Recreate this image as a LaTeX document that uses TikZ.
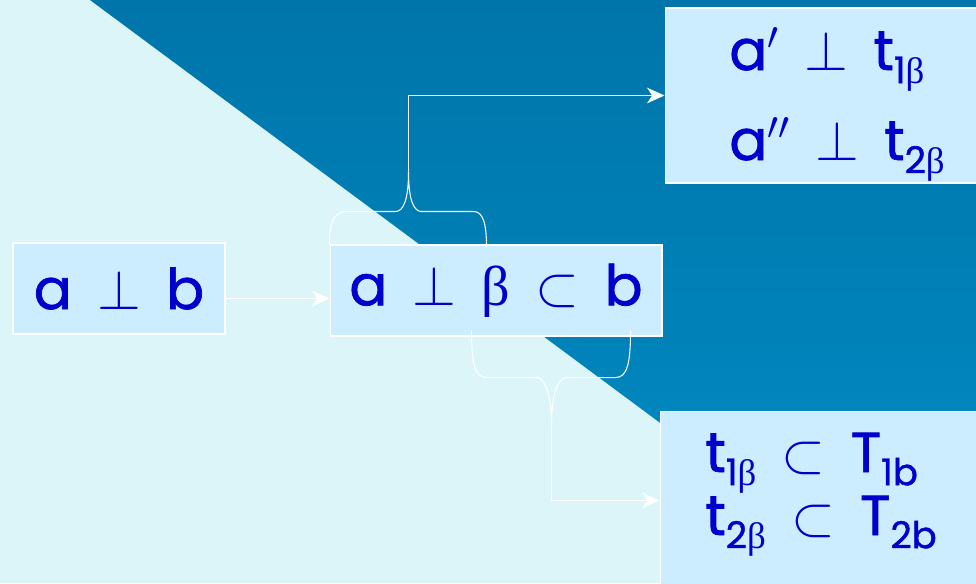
\RequirePackage{fix-cm}
\documentclass[tikz,border=0pt]{standalone}
\usepackage{fontspec}
\setmainfont{Poppins}
\newfontfamily\inkfont{Poppins}[FakeBold=1.2]
\newfontfamily\grkfont{Liberation Serif}
\usetikzlibrary{arrows.meta,positioning,calc}
\definecolor{bgpale}{RGB}{220,245,248}
\definecolor{bgdeep}{RGB}{0,117,170}
\definecolor{bgdeeplow}{RGB}{0,140,196}
\definecolor{boxfill}{RGB}{204,236,255}
\definecolor{inkblue}{RGB}{0,0,204}
\newcommand{\gap}{\hspace{0.45em}}
\newcommand{\bet}{{\grkfont β}}
\newcommand{\low}[1]{\raisebox{-7.5pt}{\fontsize{21}{21}\selectfont #1}}
\tikzset{
  relbox/.style={draw=white,line width=0.6pt,fill=boxfill,text=inkblue,font=\fontsize{32}{38}\inkfont,inner sep=0pt},
  relrow/.style={text=inkblue,font=\fontsize{32}{38}\inkfont,inner sep=0pt},
  arr/.style={-{Stealth[length=10pt,width=9pt,inset=3pt]},white,line width=0.6pt},
  brc/.style={white,line width=0.6pt}
}

\begin{document}
\begin{tikzpicture}[x=0.02cm,y=-0.02cm]
  \useasboundingbox (0,0) rectangle (976,583);
  \clip (0,0) rectangle (976,583);

  % backdrop
  \fill[bgpale] (0,0) rectangle (976,583);
  \shade[top color=bgdeep,bottom color=bgdeeplow] (90,0) -- (976,0) -- (976,583) -- (876,583) -- cycle;

  % relation boxes
  \node[relbox, minimum width=4.24cm, minimum height=1.82cm] (b1) at (119,288.5) {a\gap$\perp$\gap b\hspace{0.15em}};
  \node[relbox, minimum width=6.64cm, minimum height=1.82cm] (b2) at (496,290.5) {a\gap$\perp$\gap\bet\gap$\subset$\gap b};
  \node[relbox, minimum width=6.4cm, minimum height=3.5cm] (b3) at (825,95.5) {};
  \node[relbox, minimum width=6.5cm, minimum height=3.58cm] (b4) at (822.5,500.5) {};

  \node[relrow, anchor=base west] (r1) at (729,70) {a$'$\gap$\perp$\gap t\low{1\bet}};
  \node[relrow, anchor=base west] (r2) at (729,160) {a$''$\gap$\perp$\gap t\low{2\bet}};
  \node[relrow, anchor=base west] (r3) at (705,472) {t\low{1\bet}\gap$\subset$\gap T\low{1b}};
  \node[relrow, anchor=base west] (r4) at (705,535) {t\low{2\bet}\gap$\subset$\gap T\low{2b}};

  % braces
  \draw[brc] (b2.north west) .. controls +(0,-23) and +(-14,0) .. ++(18,-33) -- ++(48,0)
    .. controls +(8,0) and +(0,28) .. ++(13,-40) coordinate (ucusp)
    .. controls +(0,28) and +(-8,0) .. ++(13,40) -- ++(52,0)
    .. controls +(10,0) and +(0,-23) .. ++(13,36);
  \draw[brc] ($(b2.south west)+(142,-6)$) .. controls +(0,32) and +(-12,0) .. ++(15,47) -- ++(50,0)
    .. controls +(9,0) and +(0,-30) .. ++(15,48) coordinate (lcusp)
    .. controls +(0,-30) and +(-9,0) .. ++(15,-48) -- ++(49,0)
    .. controls +(12,0) and +(0,32) .. ++(15,-47);

  \draw[arr] ([yshift=-0.2cm]b1.east) -- ([yshift=-0.2cm]b1.east -| b2.west);
  \draw[arr] (ucusp) |- (b3.west);
  \draw[arr] (lcusp) |- (b4.west);
\end{tikzpicture}
\end{document}
